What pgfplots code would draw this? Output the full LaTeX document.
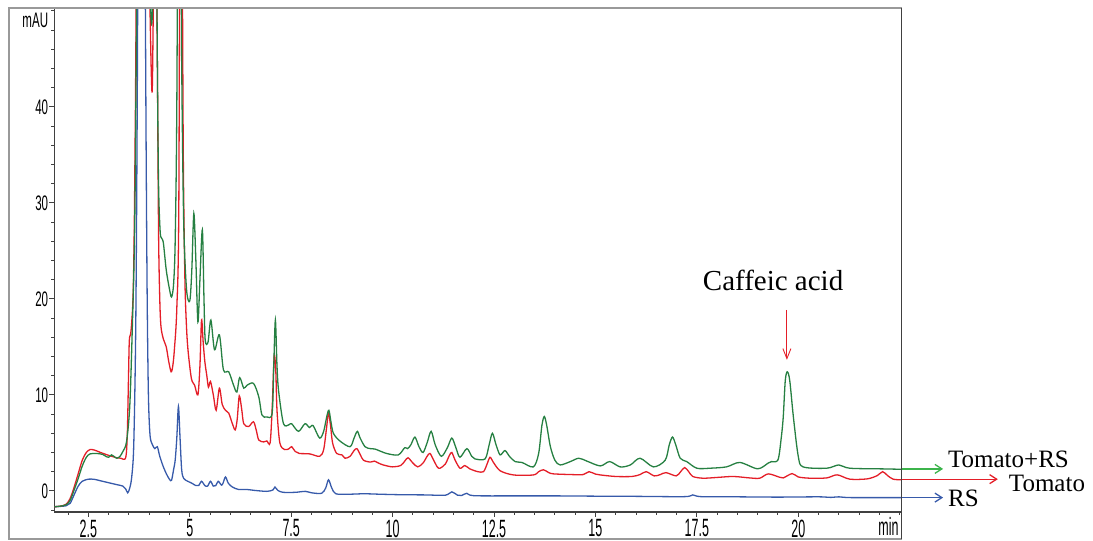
\documentclass[border=0pt]{standalone}
\usepackage{fontspec}
\setmainfont{Liberation Serif}
\newfontfamily\tickfont{Liberation Sans}
\usepackage{graphicx}
\usepackage{pgfplots}
\pgfplotsset{compat=1.18}
\usetikzlibrary{arrows.meta}
\definecolor{cgreen}{RGB}{38,128,66}
\definecolor{cgreenA}{RGB}{60,180,75}
\definecolor{cred}{RGB}{228,30,40}
\definecolor{cblue}{RGB}{55,90,170}
\newcommand{\xtl}[1]{\scalebox{0.5}[1]{\fontsize{25}{25}\tickfont #1}}
\newcommand{\ytl}[1]{\scalebox{0.55}[1]{\fontsize{21}{21}\tickfont #1}}
\begin{document}
\begin{tikzpicture}
\useasboundingbox (-54.3pt,-29pt) rectangle (1038.7pt,512pt);
\begin{axis}[
  scale only axis, width=847.4pt, height=504pt,
  xmin=1.66, xmax=22.55, ymin=-2.2, ymax=50.3,
  axis x line*=bottom, axis y line*=left,
  axis line style={draw=black!75, line width=1.1pt},
  xtick={2.5,5,7.5,10,12.5,15,17.5,20},
  xticklabels={\xtl{2.5},\xtl{5},\xtl{7.5},\xtl{10},\xtl{12.5},\xtl{15},\xtl{17.5},\xtl{20}},
  minor xtick={2,2.5,...,22.5},
  ytick={0,10,20,30,40},
  yticklabels={\ytl{0},\ytl{10},\ytl{20},\ytl{30},\ytl{40}},
  minor ytick={-2,0,...,50},
  tick align=outside, major tick length=5pt, minor tick length=3pt,
  tick style={black!75, line width=1pt},
  xticklabel style={inner sep=2.5pt},
  yticklabel style={inner sep=1pt},
  clip mode=individual,
]
\addplot[cblue, line width=1.3pt, smooth, tension=0.5] coordinates {
(1.66,-1.65) (1.8,-1.62) (1.95,-1.55) (2.05,-1.3) (2.15,-0.4) (2.25,0.5) (2.35,1.0) (2.5,1.22) (2.65,1.2) (2.8,1.05) (3.0,0.85) (3.2,0.65) (3.35,0.5) (3.42,0.2) (3.47,-0.2) (3.52,0.3) (3.57,1.5) (3.62,5) (3.67,18) (3.71,45) (3.75,90) (3.8,110) (3.86,90) (3.9,55) (3.925,35) (3.95,20) (3.98,10) (4.02,5.8) (4.08,4.8) (4.14,4.4) (4.2,4.6) (4.26,3.6) (4.34,2.6) (4.42,1.8) (4.5,1.2) (4.55,1.1) (4.6,2.2) (4.64,3.2) (4.68,5.5) (4.72,8.8) (4.76,5.5) (4.8,2.2) (4.85,1.3) (4.95,1.0) (5.05,0.8) (5.15,0.55) (5.22,0.55) (5.29,1.0) (5.37,0.55) (5.44,0.5) (5.51,1.0) (5.58,0.5) (5.64,0.55) (5.7,1.0) (5.78,0.6) (5.82,0.8) (5.88,1.45) (5.95,0.8) (6.05,0.4) (6.2,0.15) (6.4,0.15) (6.6,0.05) (6.9,-0.05) (7.05,0.1) (7.1,0.4) (7.17,0.05) (7.3,-0.15) (7.6,-0.15) (7.85,-0.05) (8.0,-0.2) (8.25,-0.25) (8.35,0.3) (8.42,1.15) (8.5,0.3) (8.6,-0.3) (8.9,-0.35) (9.3,-0.3) (9.7,-0.35) (10.2,-0.4) (10.8,-0.42) (11.3,-0.45) (11.46,-0.1) (11.6,-0.45) (11.7,-0.48) (11.83,-0.25) (12.0,-0.5) (13,-0.52) (14,-0.52) (15,-0.55) (16,-0.57) (17.2,-0.6) (17.4,-0.42) (17.6,-0.6) (18.5,-0.62) (19.5,-0.65) (20.5,-0.62) (20.8,-0.68) (21.0,-0.62) (21.3,-0.7) (22.55,-0.7)
};
\addplot[cred, line width=1.3pt, smooth, tension=0.5] coordinates {
(1.66,-1.65) (1.8,-1.6) (1.95,-1.4) (2.05,-0.8) (2.15,0.4) (2.25,1.8) (2.35,3.2) (2.45,4.0) (2.54,4.3) (2.65,4.25) (2.8,4.0) (3.0,3.7) (3.2,3.45) (3.3,3.4) (3.42,3.45) (3.46,6) (3.49,12) (3.51,15.7) (3.55,16.6) (3.6,20) (3.63,27) (3.66,40) (3.7,60) (3.8,80) (3.95,70) (4.02,50) (4.07,41.5) (4.1,50) (4.15,70) (4.2,45) (4.23,27) (4.26,20) (4.29,17.1) (4.35,15.8) (4.42,15.0) (4.48,13.5) (4.54,12.4) (4.58,13) (4.62,14.7) (4.68,19) (4.73,30) (4.77,80) (4.81,60) (4.84,35) (4.88,22) (4.92,17) (4.96,14.5) (5.04,11.7) (5.12,11.0) (5.2,10.0) (5.25,13) (5.29,17.8) (5.33,15.5) (5.37,13.5) (5.42,12.0) (5.46,10.8) (5.51,11.4) (5.58,10) (5.65,8.4) (5.73,10.7) (5.8,9.0) (5.88,8.4) (5.96,8.1) (6.05,7.0) (6.12,6.35) (6.17,7.5) (6.22,9.9) (6.28,8.5) (6.33,7.0) (6.45,6.7) (6.57,7.2) (6.64,6.3) (6.7,5.3) (6.82,5.1) (6.9,5.2) (6.98,5.0) (7.03,8.5) (7.08,14.0) (7.12,12.5) (7.15,8.4) (7.22,5.0) (7.34,4.3) (7.45,4.4) (7.51,4.6) (7.6,4.1) (7.7,3.9) (7.96,3.85) (8.2,3.6) (8.3,4.3) (8.37,6.5) (8.42,8.1) (8.47,6.8) (8.52,5.0) (8.62,3.9) (8.75,3.75) (8.83,3.4) (8.95,3.6) (9.05,4.2) (9.12,4.4) (9.2,3.8) (9.28,3.2) (9.45,3.0) (9.55,3.1) (9.65,2.9) (9.77,2.7) (10.0,2.5) (10.2,2.65) (10.3,3.1) (10.38,3.45) (10.5,2.9) (10.62,2.5) (10.75,2.9) (10.85,3.6) (10.92,3.9) (11.0,3.3) (11.1,2.5) (11.17,2.36) (11.3,2.8) (11.4,3.7) (11.46,4.0) (11.53,3.3) (11.66,2.36) (11.78,2.64) (11.9,2.3) (12.1,2.0) (12.24,2.0) (12.32,2.7) (12.4,3.5) (12.48,3.0) (12.65,2.1) (12.98,1.66) (13.47,1.66) (13.6,2.0) (13.72,2.2) (13.85,1.9) (13.97,1.77) (14.4,1.7) (14.7,1.7) (14.84,2.0) (15.0,1.75) (15.12,1.66) (15.5,1.5) (15.9,1.5) (16.1,1.7) (16.25,2.0) (16.45,1.56) (16.6,1.7) (16.74,1.9) (16.99,1.56) (17.1,2.0) (17.2,2.43) (17.3,2.0) (17.4,1.5) (17.65,1.32) (18.0,1.4) (18.4,1.5) (18.8,1.35) (19.05,1.32) (19.26,1.77) (19.54,1.42) (19.63,1.35) (19.85,1.8) (20.0,1.45) (20.29,1.32) (20.7,1.35) (20.96,1.67) (21.27,1.22) (21.7,1.25) (21.95,1.6) (22.08,2.0) (22.2,1.6) (22.34,1.22) (22.55,1.15)
};
\addplot[cgreen, line width=1.3pt, smooth, tension=0.5] coordinates {
(1.66,-1.65) (1.8,-1.6) (1.95,-1.45) (2.05,-1.0) (2.15,0.1) (2.25,1.3) (2.35,2.6) (2.45,3.5) (2.54,3.85) (2.7,3.9) (2.85,3.8) (2.95,3.55) (3.0,3.5) (3.07,3.75) (3.13,3.6) (3.2,3.4) (3.28,3.6) (3.35,4.1) (3.44,5.1) (3.52,8.8) (3.58,16.5) (3.64,27) (3.68,45) (3.72,70) (3.8,90) (3.95,80) (4.03,52) (4.07,49) (4.11,55) (4.16,70) (4.2,45) (4.23,32) (4.27,27) (4.31,26.3) (4.35,25.8) (4.42,23) (4.5,21) (4.55,20.2) (4.6,21.5) (4.64,26) (4.68,40) (4.73,80) (4.77,70) (4.8,45) (4.85,28) (4.92,21) (5.0,19.8) (5.05,23) (5.1,28.9) (5.15,24) (5.2,17.6) (5.25,22) (5.31,27.2) (5.35,20) (5.38,15.7) (5.45,15.5) (5.52,17.8) (5.61,14.7) (5.73,16.25) (5.83,12.6) (5.96,12.4) (6.08,11.0) (6.16,10.3) (6.23,11.8) (6.33,10.7) (6.41,11.0) (6.57,11.2) (6.7,9.8) (6.78,7.9) (6.9,7.7) (7.03,8.1) (7.07,13) (7.11,17.8) (7.15,13) (7.19,10.4) (7.31,7.0) (7.45,6.9) (7.51,7.0) (7.68,6.2) (7.84,7.0) (7.95,6.6) (8.04,6.8) (8.2,5.5) (8.3,6.2) (8.38,7.8) (8.43,8.4) (8.48,7.2) (8.54,6.0) (8.7,5.2) (8.95,4.6) (9.05,5.5) (9.13,6.2) (9.2,5.5) (9.32,4.6) (9.45,4.4) (9.57,4.35) (9.85,3.9) (10.14,3.75) (10.3,4.5) (10.37,4.4) (10.45,4.8) (10.55,5.6) (10.65,4.6) (10.75,4.0) (10.85,5.0) (10.95,6.2) (11.05,4.8) (11.2,3.6) (11.35,4.5) (11.46,5.5) (11.56,4.5) (11.66,3.5) (11.83,4.4) (11.95,3.6) (12.03,3.33) (12.28,3.33) (12.38,4.8) (12.46,6.0) (12.55,4.8) (12.65,3.75) (12.77,4.2) (12.88,3.6) (13.02,3.05) (13.19,2.96) (13.47,2.5) (13.6,3.9) (13.68,6.8) (13.74,7.75) (13.8,6.8) (13.89,4.6) (14.0,3.2) (14.13,2.7) (14.38,3.05) (14.59,3.4) (14.79,3.1) (15.12,2.6) (15.35,3.05) (15.61,2.5) (15.86,2.7) (16.1,3.4) (16.43,2.5) (16.72,3.2) (16.82,4.8) (16.9,5.6) (16.98,4.8) (17.09,3.4) (17.25,3.05) (17.5,2.36) (17.82,2.36) (18.23,2.5) (18.56,2.96) (19.0,2.3) (19.26,2.9) (19.34,3.05) (19.5,3.23) (19.58,5.5) (19.63,7.7) (19.68,11.5) (19.73,12.4) (19.79,11.5) (19.88,7.7) (20.0,3.6) (20.12,2.5) (20.7,2.36) (21.0,2.7) (21.27,2.36) (22.09,2.29) (22.55,2.25)
};
\draw[cred, line width=0.9pt, -{Straight Barb[length=10pt,width=8pt]}] (axis cs:19.72,18.85) -- (axis cs:19.72,13.65);
\node[anchor=base, font=\fontsize{29}{31}\selectfont, inner sep=0pt] at (axis cs:19.38,20.86) {Caffeic acid};
\draw[cgreenA, line width=1.3pt, -{Straight Barb[length=7pt,width=9pt]}] (axis cs:22.55,2.29) -- (axis cs:23.57,2.29);
\draw[cred, line width=1.3pt, -{Straight Barb[length=7pt,width=9pt]}] (axis cs:22.55,1.22) -- (axis cs:24.92,1.22);
\draw[cblue, line width=1.3pt, -{Straight Barb[length=7pt,width=9pt]}] (axis cs:22.55,-0.7) -- (axis cs:23.57,-0.7);
\node[anchor=base west, font=\fontsize{25}{28}\selectfont, inner sep=0pt] at (axis cs:23.69,2.42) {Tomato+RS};
\node[anchor=base west, font=\fontsize{25}{28}\selectfont, inner sep=0pt] at (axis cs:25.19,-0.02) {Tomato};
\node[anchor=base west, font=\fontsize{25}{28}\selectfont, inner sep=0pt] at (axis cs:23.69,-1.6) {RS};
\node[anchor=east, inner sep=0pt] at ([xshift=-6pt]axis cs:1.66,49.06) {\ytl{mAU}};
\node[anchor=base east, inner sep=0pt] at ([xshift=-3pt]axis cs:22.55,-4.69) {\xtl{min}};
\end{axis}
\draw[black!40, line width=1.2pt] (-45.3pt,-27pt) rectangle (847.4pt,504pt);
\draw[black!75, line width=1.2pt] (847.4pt,-27pt) -- (847.4pt,504pt);
\end{tikzpicture}
\end{document}
